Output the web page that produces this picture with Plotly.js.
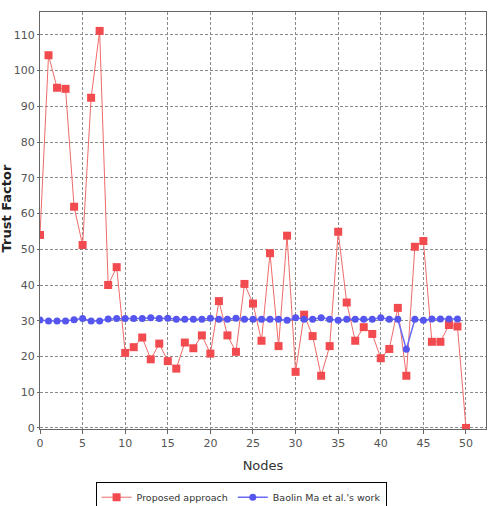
<!DOCTYPE html>
<html>
<head>
<meta charset="utf-8">
<script src="https://cdn.plot.ly/plotly-3.0.1.min.js"></script>
<style>
  html, body { margin: 0; padding: 0; background: #ffffff; }
  #chart { width: 492px; height: 506px; }
</style>
</head>
<body>
<div id="chart"></div>
<script>
// Node indices
const nodesProposed = Array.from({length: 51}, (_, i) => i);
const nodesBaolin = Array.from({length: 50}, (_, i) => i);

// Trust factor per node, proposed approach
const trustProposed = [
  54.0, 104.3, 95.2, 94.9, 61.9, 51.2, 92.4, 111.1, 40.0, 45.0,
  21.0, 22.6, 25.3, 19.2, 23.6, 18.7, 16.6, 23.9, 22.3, 25.9,
  20.8, 35.5, 25.9, 21.3, 40.3, 34.8, 24.4, 48.9, 22.9, 53.8,
  15.7, 31.7, 25.7, 14.6, 22.9, 54.9, 35.1, 24.4, 28.2, 26.3,
  19.5, 22.1, 33.6, 14.6, 50.7, 52.3, 24.1, 24.1, 28.8, 28.4,
  0.0
];

// Trust factor per node, Baolin Ma et al.'s work
const trustBaolin = [
  30.2, 29.9, 29.9, 29.9, 30.3, 30.6, 29.9, 29.9, 30.5, 30.6,
  30.6, 30.6, 30.6, 30.8, 30.6, 30.7, 30.4, 30.4, 30.4, 30.4,
  30.7, 30.4, 30.4, 30.7, 30.4, 30.4, 30.4, 30.4, 30.4, 30.1,
  30.8, 30.4, 30.4, 30.8, 30.4, 30.1, 30.4, 30.4, 30.4, 30.4,
  30.8, 30.4, 30.4, 22.0, 30.4, 30.1, 30.5, 30.5, 30.5, 30.5
];

const xTicks = [0, 5, 10, 15, 20, 25, 30, 35, 40, 45, 50];
const yTicks = [0, 10, 20, 30, 40, 50, 60, 70, 80, 90, 100, 110];

const tickFont = {family: 'DejaVu Sans, sans-serif', size: 11, color: '#555555'};

const traces = [
  {
    x: nodesProposed, y: trustProposed,
    type: 'scatter', mode: 'lines+markers',
    name: 'Proposed approach',
    line: {color: '#f06a6a', width: 1},
    marker: {symbol: 'square', size: 8, color: '#f24b4f'}
  },
  {
    x: nodesBaolin, y: trustBaolin,
    type: 'scatter', mode: 'lines+markers',
    name: "Baolin Ma et al.'s work",
    line: {color: '#6a6af5', width: 1.5},
    marker: {symbol: 'circle', size: 7, color: '#5555f0'}
  }
];

const gridStyle = {
  showgrid: true, gridcolor: '#8a8a8a', gridwidth: 1, griddash: '3px,2px'
};

const layout = {
  width: 492, height: 506,
  paper_bgcolor: '#ffffff', plot_bgcolor: '#ffffff',
  margin: {l: 40, r: 6, t: 12, b: 77},
  showlegend: true,
  xaxis: Object.assign({
    range: [0, 52.35], tickvals: xTicks, ticks: 'outside', ticklen: 4,
    tickcolor: '#666666', tickfont: tickFont, zeroline: false,
    showline: true, linecolor: '#666666', linewidth: 1, mirror: true,
    title: {text: 'Nodes', font: {family: 'DejaVu Sans, sans-serif', size: 13, color: '#333333'}, standoff: 11}
  }, gridStyle),
  yaxis: Object.assign({
    range: [-0.3, 116.4], tickvals: yTicks, ticks: 'outside', ticklen: 2,
    tickcolor: '#666666', tickfont: tickFont, zeroline: false,
    showline: true, linecolor: '#666666', linewidth: 1, mirror: true
  }, gridStyle),
  legend: {
    orientation: 'h', xref: 'container', yref: 'container',
    x: 0.49, xanchor: 'center', y: 0.048, yanchor: 'top',
    bordercolor: '#000000', borderwidth: 1, bgcolor: '#ffffff',
    font: {family: 'DejaVu Sans, sans-serif', size: 9.5, color: '#333333'},
    itemwidth: 30, tracegroupgap: 0
  },
  annotations: [{
    text: '<b>Trust Factor</b>', xref: 'paper', yref: 'paper',
    x: -0.073, y: 0.53, xanchor: 'center', yanchor: 'middle',
    textangle: -90, showarrow: false,
    font: {family: 'DejaVu Sans, sans-serif', size: 13, color: '#222222'}
  }]
};

Plotly.newPlot('chart', traces, layout, {displayModeBar: false, staticPlot: true});
</script>
</body>
</html>
